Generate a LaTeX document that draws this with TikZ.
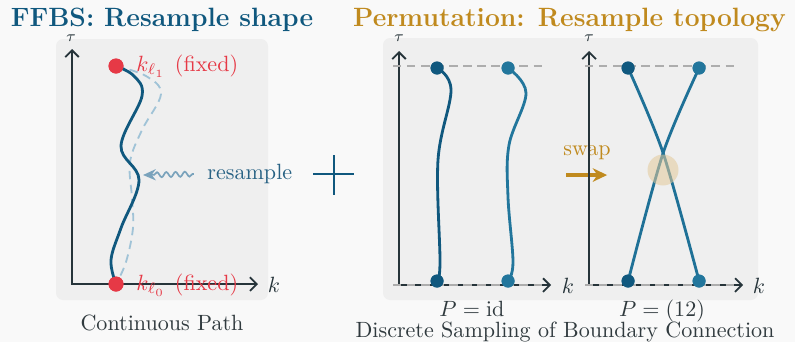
\documentclass[tikz,border=0pt]{standalone}
\usepackage{amsmath}
\usepackage{tikz}
\usetikzlibrary{positioning,arrows.meta,calc,decorations.pathmorphing}

\definecolor{pagebg}{RGB}{249,249,249}
\definecolor{panelbg}{RGB}{239,239,239}
\definecolor{ffbsblue}{RGB}{16,88,126}
\definecolor{permgold}{RGB}{192,138,30}
\definecolor{fixedred}{RGB}{230,57,70}
\definecolor{pathteal}{RGB}{34,118,156}
\definecolor{axisdark}{RGB}{38,52,58}
\definecolor{ghostblue}{RGB}{160,195,215}
\definecolor{wavyblue}{RGB}{122,163,188}
\definecolor{labelblue}{RGB}{40,98,132}
\definecolor{textdark}{RGB}{48,58,62}

\tikzset{
  panel/.style={fill=panelbg,draw=none,rounded corners=5},
  axis/.style={draw=axisdark,line width=1.3pt,{Straight Barb[length=1.7mm,width=3.4mm]}-{Straight Barb[length=1.7mm,width=3.4mm]}},
  axlabel/.style={text=axisdark,inner sep=1pt},
  taulabel/.style={text=axisdark,inner sep=0pt,font=\scriptsize},
  guide/.style={draw=black!32,line width=1pt,dash pattern=on 6pt off 4pt},
  reddot/.style={circle,fill=fixedred,inner sep=0pt,minimum size=15*0.015924cm},
  darkdot/.style={circle,fill=ffbsblue,inner sep=0pt,minimum size=13*0.015924cm},
  tealdot/.style={circle,fill=pathteal,inner sep=0pt,minimum size=13*0.015924cm},
  strand/.style={line width=2pt,line cap=round},
  caption/.style={text=textdark,anchor=base,inner sep=0pt},
  title/.style={font=\large\bfseries,anchor=base,inner sep=0pt}
}

\begin{document}
\begin{tikzpicture}[x=0.015924cm,y=-0.015924cm,scale=1.57,transform shape]
  \useasboundingbox[fill=pagebg] (0,0) rectangle (795,342);

  % titles
  \node[title,text=ffbsblue] (ttlA) at (162,26) {FFBS: Resample shape};
  \node[title,text=permgold] (ttlB) at (569.5,26) {Permutation: Resample topology};

  % ---- continuous path panel
  \fill[panel] (56,39) rectangle (268,300);
  \coordinate (tA) at (72,49);
  \coordinate (oA) at (72,284);
  \coordinate (kA) at (258,284);
  \draw[axis] (tA) -- (oA) -- (kA);
  \node[taulabel] (tauA) at (71,38.5) {$\tau$};
  \node[axlabel] (klA) at (274,285) {$k$};

  \node[reddot] (top) at (116,66) {};
  \node[reddot] (bot) at (116,284) {};
  \draw[ghostblue,line width=1.3pt,dash pattern=on 6pt off 4pt] plot[smooth,tension=0.6] coordinates
    {(top.center) (146,76) (161,94) (142,130) (130,162) (132,198) (133,228) (126,262) (bot.center)};
  \draw[ffbsblue,strand] plot[smooth,tension=0.6] coordinates
    {(top.center) (134,76) (142,96) (121,146) (139,180) (121,228) (111,260) (bot.center)};
  \node[reddot] at (top) {};
  \node[reddot] at (bot) {};
  \node[anchor=west,text=fixedred,inner sep=0pt] (fixA) at (136,66) {$k_{\ell_1}$\hspace{0.45em}(fixed)};
  \node[anchor=west,text=fixedred,inner sep=0pt] (fixB) at (136,285) {$k_{\ell_0}$\hspace{0.45em}(fixed)};

  \node[anchor=west,text=labelblue,inner sep=0pt] (rs) at (207,174) {resample};
  \coordinate (hit) at (143,175);
  \draw[wavyblue,line width=1.2pt,-{Stealth[length=3.2mm,width=2.8mm]},
    decorate,decoration={snake,amplitude=1.8pt,segment length=6.6pt,pre length=1pt,post length=5pt}]
    ([xshift=-6pt]rs.west) -- (hit);
  \node[caption] (capA) at (162,330) {Continuous Path};

  % plus
  \draw[ffbsblue,line width=1.5pt] (313,174) -- (354,174) (334,155) -- (334,195);

  % ---- permutation panel
  \fill[panel] (383,38) rectangle (758,300);

  % identity
  \coordinate (tB) at (399,51);
  \coordinate (oB) at (399,285);
  \coordinate (kB) at (551,285);
  \draw[axis] (tB) -- (oB) -- (kB);
  \draw[guide] (393,66) -- (545,66);
  \draw[guide] (393,285) -- (545,285);
  \node[taulabel] (tauB) at (399,38.5) {$\tau$};
  \node[axlabel] (klB) at (568,286) {$k$};
  \node[darkdot] (b1) at (437,68) {};
  \node[tealdot] (b2) at (508,68) {};
  \node[darkdot] (a1) at (437,281) {};
  \node[tealdot] (a2) at (508,281) {};
  \draw[ffbsblue,strand] plot[smooth,tension=0.6] coordinates
    {(b1.center) (451,90) (438,160) (440,262) (a1.center)};
  \draw[pathteal,strand] plot[smooth,tension=0.6] coordinates
    {(b2.center) (526,93) (509,145) (508,197) (513,262) (a2.center)};
  \node[darkdot] at (b1) {};
  \node[tealdot] at (b2) {};
  \node[darkdot] at (a1) {};
  \node[tealdot] at (a2) {};
  \node[caption] (pid) at (472,316) {$P=\mathrm{id}$};

  % swap
  \node[text=permgold] (sw) at (587,153) {swap};
  \coordinate (swL) at (566,175);
  \coordinate (swR) at (607,175);
  \draw[permgold,line width=2.2pt,-{Stealth[length=3.6mm,width=3.4mm]}] (swL) -- (swR);

  % transposition
  \coordinate (tC) at (589,51);
  \coordinate (oC) at (589,285);
  \coordinate (kC) at (743,285);
  \draw[axis] (tC) -- (oC) -- (kC);
  \draw[guide] (585,66) -- (735,66);
  \draw[guide] (585,285) -- (735,285);
  \node[taulabel] (tauC) at (589,38.5) {$\tau$};
  \node[axlabel] (klC) at (759,286) {$k$};
  \node[darkdot] (d1) at (628,68) {};
  \node[tealdot] (d2) at (699,68) {};
  \node[darkdot] (c1) at (628,281) {};
  \node[tealdot] (c2) at (699,281) {};
  \coordinate (x) at (663,153);
  \draw[pathteal!85!ffbsblue,strand] plot[smooth,tension=0.5] coordinates {(d1.center) (x) (c2.center)};
  \draw[pathteal!85!ffbsblue,strand] plot[smooth,tension=0.5] coordinates {(d2.center) (x) (c1.center)};
  \fill[permgold!45,opacity=0.55] (663,170) circle (15.5);
  \node[darkdot] at (d1) {};
  \node[tealdot] at (d2) {};
  \node[darkdot] at (c1) {};
  \node[tealdot] at (c2) {};
  \node[caption] (pswap) at (662,316) {$P=(12)$};

  \node[caption] (capB) at (565,337.5) {Discrete Sampling of Boundary Connection};
\end{tikzpicture}
\end{document}
